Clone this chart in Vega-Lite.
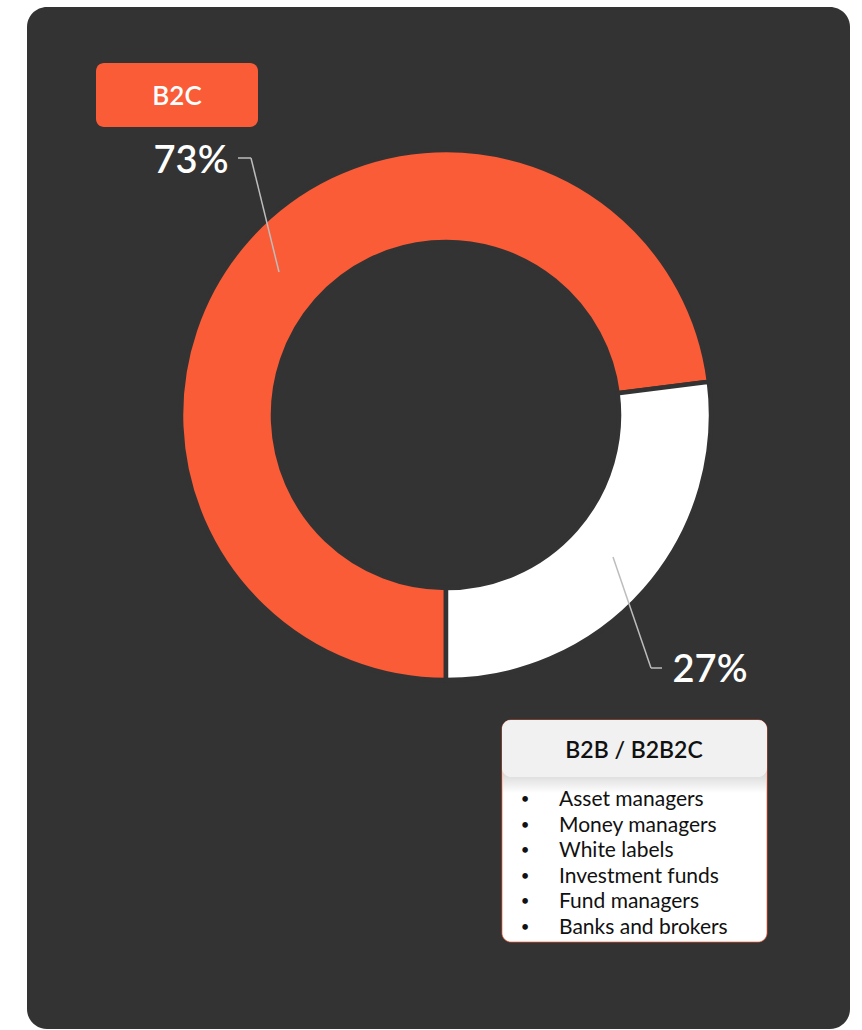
{
  "$schema": "https://vega.github.io/schema/vega-lite/v6.json",
  "autosize": {"type": "fit", "contains": "padding"},
  "width": 862,
  "height": 1030,
  "padding": {"left": 27, "top": 7, "right": 12, "bottom": 1},
  "background": "#ffffff",
  "view": {"fill": "#333333", "stroke": null, "cornerRadius": 20},
  "config": {"axis": {"disable": true}, "font": "Lato"},
  "datasets": {
    "segments": [
      {"segment": "B2C", "share": 73, "label": "73%"},
      {"segment": "B2B / B2B2C", "share": 27, "label": "27%"}
    ],
    "items": [
      {"item": "Asset managers"},
      {"item": "Money managers"},
      {"item": "White labels"},
      {"item": "Investment funds"},
      {"item": "Fund managers"},
      {"item": "Banks and brokers"}
    ]
  },
  "data": {"name": "segments"},
  "resolve": {"scale": {"y": "independent"}},
  "layer": [
    {
      "mark": {"type": "arc", "outerRadius": 265, "innerRadius": 173, "stroke": "#333333", "strokeWidth": 4.5},
      "encoding": {
        "x": {"datum": 419, "type": "quantitative", "scale": {"domain": [0, 823]}},
        "y": {"datum": 408, "type": "quantitative", "scale": {"domain": [0, 1022], "reverse": true}},
        "theta": {"field": "share", "type": "quantitative", "stack": true, "scale": {"range": [3.141592653589793, 9.42477796076938]}},
        "order": {"field": "share", "sort": "descending"},
        "color": {"field": "segment", "type": "nominal", "legend": null, "scale": {"domain": ["B2C", "B2B / B2B2C"], "range": ["#F95C37", "#FFFFFF"]}}
      }
    },
    {
      "mark": {"type": "rect", "fill": "#F95C37", "cornerRadius": 8},
      "transform": [{"filter": "datum.segment === 'B2C'"}],
      "encoding": {
        "x": {"datum": 69, "type": "quantitative", "scale": {"domain": [0, 823]}},
        "x2": {"datum": 231},
        "y": {"datum": 56, "type": "quantitative", "scale": {"domain": [0, 1022], "reverse": true}},
        "y2": {"datum": 120}
      }
    },
    {
      "mark": {"type": "text", "color": "#ffffff", "fontSize": 26, "fontWeight": 600, "align": "center", "baseline": "alphabetic"},
      "transform": [{"filter": "datum.segment === 'B2C'"}],
      "encoding": {
        "text": {"field": "segment"},
        "x": {"datum": 150, "type": "quantitative", "scale": {"domain": [0, 823]}},
        "y": {"datum": 98, "type": "quantitative", "scale": {"domain": [0, 1022], "reverse": true}}
      }
    },
    {
      "mark": {"type": "text", "color": "#ffffff", "fontSize": 38, "fontWeight": 600, "align": "center", "baseline": "alphabetic"},
      "transform": [{"filter": "datum.segment === 'B2C'"}],
      "encoding": {
        "text": {"field": "label"},
        "x": {"datum": 164, "type": "quantitative", "scale": {"domain": [0, 823]}},
        "y": {"datum": 166, "type": "quantitative", "scale": {"domain": [0, 1022], "reverse": true}}
      }
    },
    {
      "mark": {"type": "text", "color": "#ffffff", "fontSize": 38, "fontWeight": 600, "align": "center", "baseline": "alphabetic"},
      "transform": [{"filter": "datum.segment === 'B2B / B2B2C'"}],
      "encoding": {
        "text": {"field": "label"},
        "x": {"datum": 683, "type": "quantitative", "scale": {"domain": [0, 823]}},
        "y": {"datum": 675, "type": "quantitative", "scale": {"domain": [0, 1022], "reverse": true}}
      }
    },
    {
      "mark": {"type": "rule", "color": "#bdbdbd", "strokeWidth": 1.5},
      "transform": [{"filter": "datum.segment === 'B2C'"}],
      "encoding": {
        "x": {"datum": 211, "type": "quantitative", "scale": {"domain": [0, 823]}},
        "x2": {"datum": 224},
        "y": {"datum": 151, "type": "quantitative", "scale": {"domain": [0, 1022], "reverse": true}},
        "y2": {"datum": 151}
      }
    },
    {
      "mark": {"type": "rule", "color": "#bdbdbd", "strokeWidth": 1.5},
      "transform": [{"filter": "datum.segment === 'B2C'"}],
      "encoding": {
        "x": {"datum": 224, "type": "quantitative", "scale": {"domain": [0, 823]}},
        "x2": {"datum": 252},
        "y": {"datum": 151, "type": "quantitative", "scale": {"domain": [0, 1022], "reverse": true}},
        "y2": {"datum": 265}
      }
    },
    {
      "mark": {"type": "rule", "color": "#bdbdbd", "strokeWidth": 1.5},
      "transform": [{"filter": "datum.segment === 'B2C'"}],
      "encoding": {
        "x": {"datum": 586, "type": "quantitative", "scale": {"domain": [0, 823]}},
        "x2": {"datum": 624},
        "y": {"datum": 550, "type": "quantitative", "scale": {"domain": [0, 1022], "reverse": true}},
        "y2": {"datum": 661}
      }
    },
    {
      "mark": {"type": "rule", "color": "#bdbdbd", "strokeWidth": 1.5},
      "transform": [{"filter": "datum.segment === 'B2C'"}],
      "encoding": {
        "x": {"datum": 624, "type": "quantitative", "scale": {"domain": [0, 823]}},
        "x2": {"datum": 635},
        "y": {"datum": 661, "type": "quantitative", "scale": {"domain": [0, 1022], "reverse": true}},
        "y2": {"datum": 661}
      }
    },
    {
      "mark": {"type": "rect", "fill": "#ffffff", "stroke": "#F95C37", "strokeWidth": 1, "strokeOpacity": 0.7, "cornerRadius": 9},
      "transform": [{"filter": "datum.segment === 'B2B / B2B2C'"}],
      "encoding": {
        "x": {"datum": 475, "type": "quantitative", "scale": {"domain": [0, 823]}},
        "x2": {"datum": 740},
        "y": {"datum": 713, "type": "quantitative", "scale": {"domain": [0, 1022], "reverse": true}},
        "y2": {"datum": 935}
      }
    },
    {
      "mark": {"type": "rect", "fill": {"gradient": "linear", "x1": 0, "y1": 0, "x2": 0, "y2": 1, "stops": [{"offset": 0, "color": "#d6d6d6"}, {"offset": 1, "color": "#ffffff"}]}},
      "transform": [{"filter": "datum.segment === 'B2B / B2B2C'"}],
      "encoding": {
        "x": {"datum": 476, "type": "quantitative", "scale": {"domain": [0, 823]}},
        "x2": {"datum": 739},
        "y": {"datum": 765, "type": "quantitative", "scale": {"domain": [0, 1022], "reverse": true}},
        "y2": {"datum": 786}
      }
    },
    {
      "mark": {"type": "rect", "fill": "#f1f1f1", "cornerRadius": 9},
      "transform": [{"filter": "datum.segment === 'B2B / B2B2C'"}],
      "encoding": {
        "x": {"datum": 475, "type": "quantitative", "scale": {"domain": [0, 823]}},
        "x2": {"datum": 740},
        "y": {"datum": 713, "type": "quantitative", "scale": {"domain": [0, 1022], "reverse": true}},
        "y2": {"datum": 770}
      }
    },
    {
      "mark": {"type": "text", "color": "#111111", "fontSize": 23, "fontWeight": 600, "align": "center", "baseline": "alphabetic"},
      "transform": [{"filter": "datum.segment === 'B2B / B2B2C'"}],
      "encoding": {
        "text": {"field": "segment"},
        "x": {"datum": 607, "type": "quantitative", "scale": {"domain": [0, 823]}},
        "y": {"datum": 751, "type": "quantitative", "scale": {"domain": [0, 1022], "reverse": true}}
      }
    },
    {
      "data": {"name": "items"},
      "mark": {"type": "text", "color": "#111111", "fontSize": 21, "align": "left", "baseline": "alphabetic"},
      "encoding": {
        "text": {"field": "item"},
        "x": {"datum": 532, "type": "quantitative", "scale": {"domain": [0, 823]}},
        "y": {"field": "item", "type": "ordinal", "sort": null, "scale": {"type": "point", "padding": 0, "range": [799, 927]}}
      }
    },
    {
      "data": {"name": "items"},
      "mark": {"type": "text", "color": "#111111", "fontSize": 15, "align": "center", "baseline": "alphabetic", "dy": -2, "text": "•"},
      "encoding": {
        "detail": {"field": "item"},
        "x": {"datum": 498, "type": "quantitative", "scale": {"domain": [0, 823]}},
        "y": {"field": "item", "type": "ordinal", "sort": null, "scale": {"type": "point", "padding": 0, "range": [799, 927]}}
      }
    }
  ]
}
